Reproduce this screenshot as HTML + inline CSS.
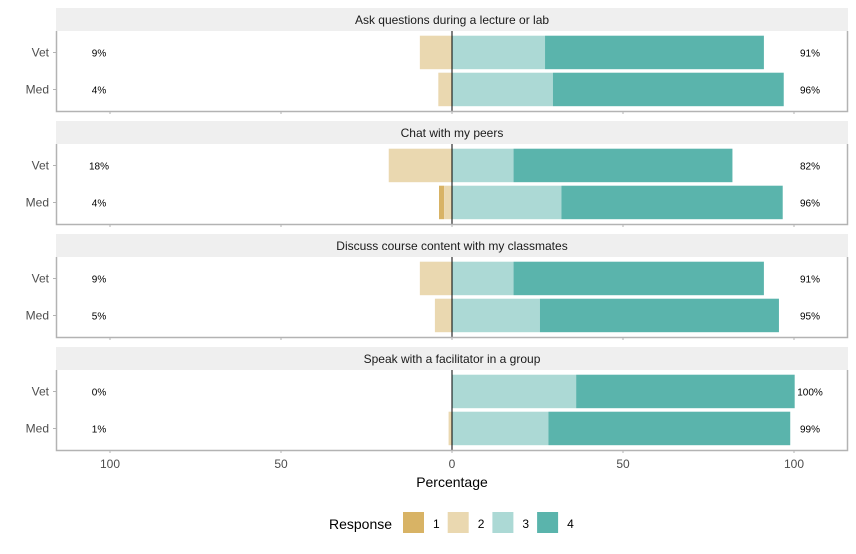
<!DOCTYPE html>
<html><head><meta charset="utf-8"><style>
body{margin:0;background:#fff;font-family:"Liberation Sans",sans-serif;}
svg text{font-family:"Liberation Sans",sans-serif;}
</style></head><body>
<svg id="c" width="856" height="549"></svg>
<script>
const panels=["Ask questions during a lecture or lab","Chat with my peers","Discuss course content with my classmates","Speak with a facilitator in a group"];
const groups=["Vet","Med"];
const r1=[[0,0],[0,1.5],[0,0],[0,0]];
const r2=[[9.4,4],[18.5,2.3],[9.4,5],[0,1]];
const r3=[[27.2,29.5],[18,32],[18,25.7],[36.3,28.2]];
const r4=[[64,67.5],[64,64.7],[73.2,69.9],[63.9,70.7]];
const leftLabels=[["9%","4%"],["18%","4%"],["9%","5%"],["0%","1%"]];
const rightLabels=[["91%","96%"],["82%","96%"],["91%","95%"],["100%","99%"]];
const ticks=[-100,-50,0,50,100];
const colors=["#d8b365","#ead8b0","#acd9d5","#5ab4ac"];
const NS="http://www.w3.org/2000/svg",svg=document.getElementById('c');
function x(v){return 452+v*3.42;}
function mk(t,a,txt){const e=document.createElementNS(NS,t);for(const k in a)e.setAttribute(k,a[k]);if(txt!==undefined)e.textContent=txt;svg.appendChild(e);return e;}
panels.forEach((p,i)=>{
 const top=8+i*113;
 let e=mk('rect',{x:56,y:top,width:792,height:23,fill:'#efefef'});
 
 e=mk('text',{x:452,y:top+16,'text-anchor':'middle','font-size':12,fill:'#1a1a1a'},p);
 
 const pt=top+23,pb=pt+80;
 groups.forEach((g,j)=>{
  const cy=pt+21.5+j*37,y0=cy-16.8,h=33.5;
  const segs=[[-r1[i][j]-r2[i][j],r1[i][j],0],[-r2[i][j],r2[i][j],1],[0,r3[i][j],2],[r3[i][j],r4[i][j],3]];
  segs.forEach(s=>{if(s[1]<=0)return;
   const b=mk('rect',{x:x(s[0]),y:y0,width:s[1]*3.42,height:h,fill:colors[s[2]]});
   });
  e=mk('text',{x:49,y:cy+4,'text-anchor':'end','font-size':12,fill:'#4d4d4d'},g);
  
  mk('line',{x1:53,x2:56,y1:cy,y2:cy,stroke:'#b3b3b3'});
  e=mk('text',{x:99,y:cy+4,'text-anchor':'middle','font-size':10,fill:'#000'},leftLabels[i][j]);
  
  e=mk('text',{x:810,y:cy+4,'text-anchor':'middle','font-size':10,fill:'#000'},rightLabels[i][j]);
  
 });
 mk('line',{x1:452,x2:452,y1:pt,y2:pb,stroke:'#000','stroke-width':1});
 mk('path',{d:`M56.5 ${pt}V${pb+0.5}H847.5V${pt}`,fill:'none',stroke:'#b3b3b3','stroke-width':1.5});
 ticks.forEach(t=>mk('line',{x1:x(t),x2:x(t),y1:pb,y2:pb+3,stroke:'#b3b3b3'}));
});
ticks.forEach(t=>{const e=mk('text',{x:x(t),y:468,'text-anchor':'middle','font-size':12,fill:'#4d4d4d'},Math.abs(t));
 });
let e=mk('text',{x:452,y:487,'text-anchor':'middle','font-size':14,fill:'#000'},'Percentage');

e=mk('text',{x:329,y:529,'font-size':14,fill:'#000'},'Response');

[1,2,3,4].forEach((n,k)=>{const lx=403+k*44.7;
 const r=mk('rect',{x:lx,y:512,width:21,height:21,fill:colors[k]});
 
 const t=mk('text',{x:lx+30,y:528,'font-size':12,fill:'#000'},n);
 });
</script></body></html>
